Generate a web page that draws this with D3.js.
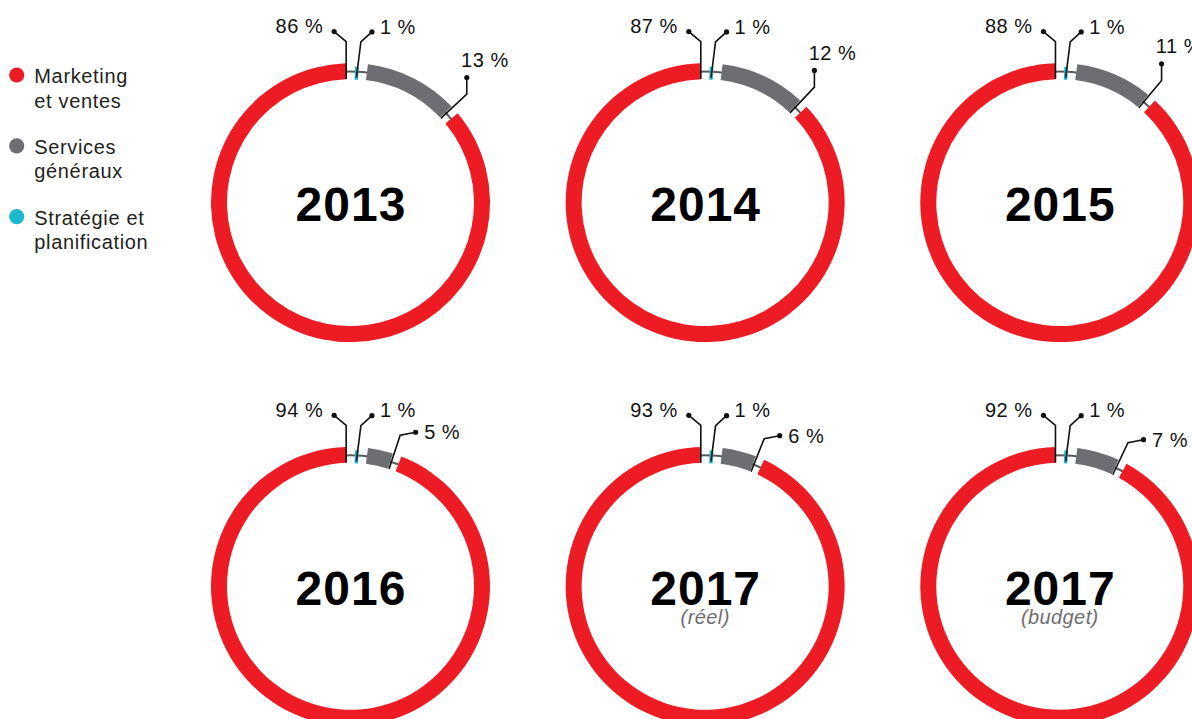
<!DOCTYPE html>
<html>
<head>
<meta charset="utf-8">
<script src="https://d3js.org/d3.v7.min.js"></script>
<style>
  html, body { margin: 0; padding: 0; background: #fff; }
  svg { display: block; font-family: "Liberation Sans", Arial, Helvetica, sans-serif; }
</style>
</head>
<body>
<svg id="chart" width="1192" height="719"></svg>
<script>
// Répartition des dépenses par fonction (%)
const years      = ["2013", "2014", "2015", "2016", "2017", "2017"];
const subtitles  = ["", "", "", "", "(réel)", "(budget)"];
const strategie  = [1, 1, 1, 1, 1, 1];
const services   = [13, 12, 11, 5, 6, 7];
const marketing  = [86, 87, 88, 94, 93, 92];

const legendItems = [
  { key: "marketing", lines: ["Marketing", "et ventes"] },
  { key: "services",  lines: ["Services", "généraux"] },
  { key: "strategie", lines: ["Stratégie et", "planification"] }
];

const colors = { marketing: "#ed1c24", services: "#6d6e71", strategie: "#1cb8d0" };

const svg = d3.select("#chart");
const deg = Math.PI / 180;

// grid of rings
const colX = d3.scalePoint().domain([0, 1, 2]).range([350.5, 1059.8]);
const rowY = d3.scalePoint().domain([0, 1]).range([202.6, 586.3]);

const R_OUT = 139.5, R_IN = 123.5, R_TRACK = 131;

const pie = d3.pie().sort(null).value(d => d.v).startAngle(0).endAngle(2 * Math.PI);
const arc = d3.arc();

// ---- legend ----
const legend = svg.append("g");
legendItems.forEach((it, i) => {
  const g = legend.append("g").attr("transform", `translate(0,${75 + i * 70.8})`);
  g.append("circle").attr("cx", 16.7).attr("cy", 0).attr("r", 7.6).attr("fill", colors[it.key]);
  it.lines.forEach((ln, j) => {
    g.append("text")
      .attr("x", 34.3).attr("y", 8.3 + j * 24.4)
      .attr("font-size", 20).attr("letter-spacing", 0.65)
      .attr("fill", "#231f20").text(ln);
  });
});

// point on circle of radius r at angle a (0 = 12 o'clock, clockwise)
const pt = (a, r) => [Math.sin(a) * r, -Math.cos(a) * r];

years.forEach((yr, i) => {
  const cx = colX(i % 3), cy = rowY(Math.floor(i / 3));
  const row = Math.floor(i / 3);
  const data = [
    { key: "strategie", v: strategie[i] },
    { key: "services",  v: services[i] },
    { key: "marketing", v: marketing[i] }
  ];
  const arcs = pie(data);
  const g = svg.append("g").attr("transform", `translate(${cx},${cy})`);

  // thin track behind the segments
  g.append("circle").attr("r", R_TRACK).attr("fill", "none")
    .attr("stroke", "#58595b").attr("stroke-width", 2);

  const [aB, aS, aM] = arcs;
  const blueMid = (aB.startAngle + aB.endAngle) / 2 + 0.9 * deg;
  const blue = { startAngle: blueMid - 0.8 * deg, endAngle: blueMid + 0.8 * deg, innerRadius: 123, outerRadius: 136 };
  const gray = { startAngle: aS.startAngle + 3.6 * deg, endAngle: aS.endAngle - 3.9 * deg, innerRadius: R_IN, outerRadius: R_OUT };
  const red  = { startAngle: aM.startAngle - 0.2 * deg, endAngle: aM.endAngle - 1.9 * deg, innerRadius: R_IN, outerRadius: R_OUT };

  g.append("path").attr("d", arc(red)).attr("fill", colors.marketing);
  g.append("path").attr("d", arc(gray)).attr("fill", colors.services);
  g.append("path").attr("d", arc(blue)).attr("fill", colors.strategie);

  const lead = g.append("g").attr("fill", "none").attr("stroke", "#111").attr("stroke-width", 1.6);
  const dots = g.append("g").attr("fill", "#111");
  const lbl = g.append("g").attr("font-size", 20).attr("letter-spacing", 0.5).attr("fill", "#111");

  // marketing leader: vertical at the segment's end, then to the dot
  const redEnd = pt(red.endAngle, R_TRACK);
  const rb = [redEnd[0], -161];
  const rd = [rb[0] - 12, rb[1] - 10];
  lead.append("polyline").attr("points", [[redEnd[0], -R_IN], rb, rd].map(p => p.join(",")).join(" "));
  dots.append("circle").attr("cx", rd[0]).attr("cy", rd[1]).attr("r", 2.6);
  lbl.append("text").attr("x", rd[0] - 11).attr("y", rd[1] + 1.6).attr("text-anchor", "end")
    .text(`${marketing[i]} %`);

  // strategie leader
  const b0 = pt(blueMid, 125);
  const bb = pt(blueMid + 1.0 * deg, 161);
  const bd = [bb[0] + 11, bb[1] - 10];
  lead.append("polyline").attr("points", [b0, bb, bd].map(p => p.join(",")).join(" "));
  dots.append("circle").attr("cx", bd[0]).attr("cy", bd[1]).attr("r", 2.6);
  lbl.append("text").attr("x", bd[0] + 8).attr("y", bd[1] + 1.6).text(`${strategie[i]} %`);

  // services leader: radial at the segment's end, then to the dot
  const gapA = gray.endAngle + 0.5 * deg;
  const s0 = pt(gapA, 123.5);
  const sb = pt(gapA, 159);
  let sd, tx, ty;
  if (row === 0) {
    sd = [sb[0], sb[1] - 16.6];
    tx = sd[0] - 5.7; ty = sd[1] - 10.5;
  } else {
    sd = [sb[0] + 15.5, sb[1] - 3];
    tx = sd[0] + 8.5; ty = sd[1] + 7;
  }
  lead.append("polyline").attr("points", [s0, sb, sd].map(p => p.join(",")).join(" "));
  dots.append("circle").attr("cx", sd[0]).attr("cy", sd[1]).attr("r", 2.6);
  lbl.append("text").attr("x", tx).attr("y", ty).text(`${services[i]} %`);

  // year in the centre
  g.append("text").attr("x", 0.5).attr("y", 18.2).attr("text-anchor", "middle")
    .attr("font-size", 48).attr("font-weight", "bold").attr("letter-spacing", 1)
    .attr("fill", "#000").text(yr);
  if (subtitles[i]) {
    g.append("text").attr("x", 0).attr("y", 37.5).attr("text-anchor", "middle")
      .attr("font-size", 20).attr("font-style", "italic").attr("letter-spacing", 0.4)
      .attr("fill", "#6d6e71").text(subtitles[i]);
  }
});
</script>
</body>
</html>
